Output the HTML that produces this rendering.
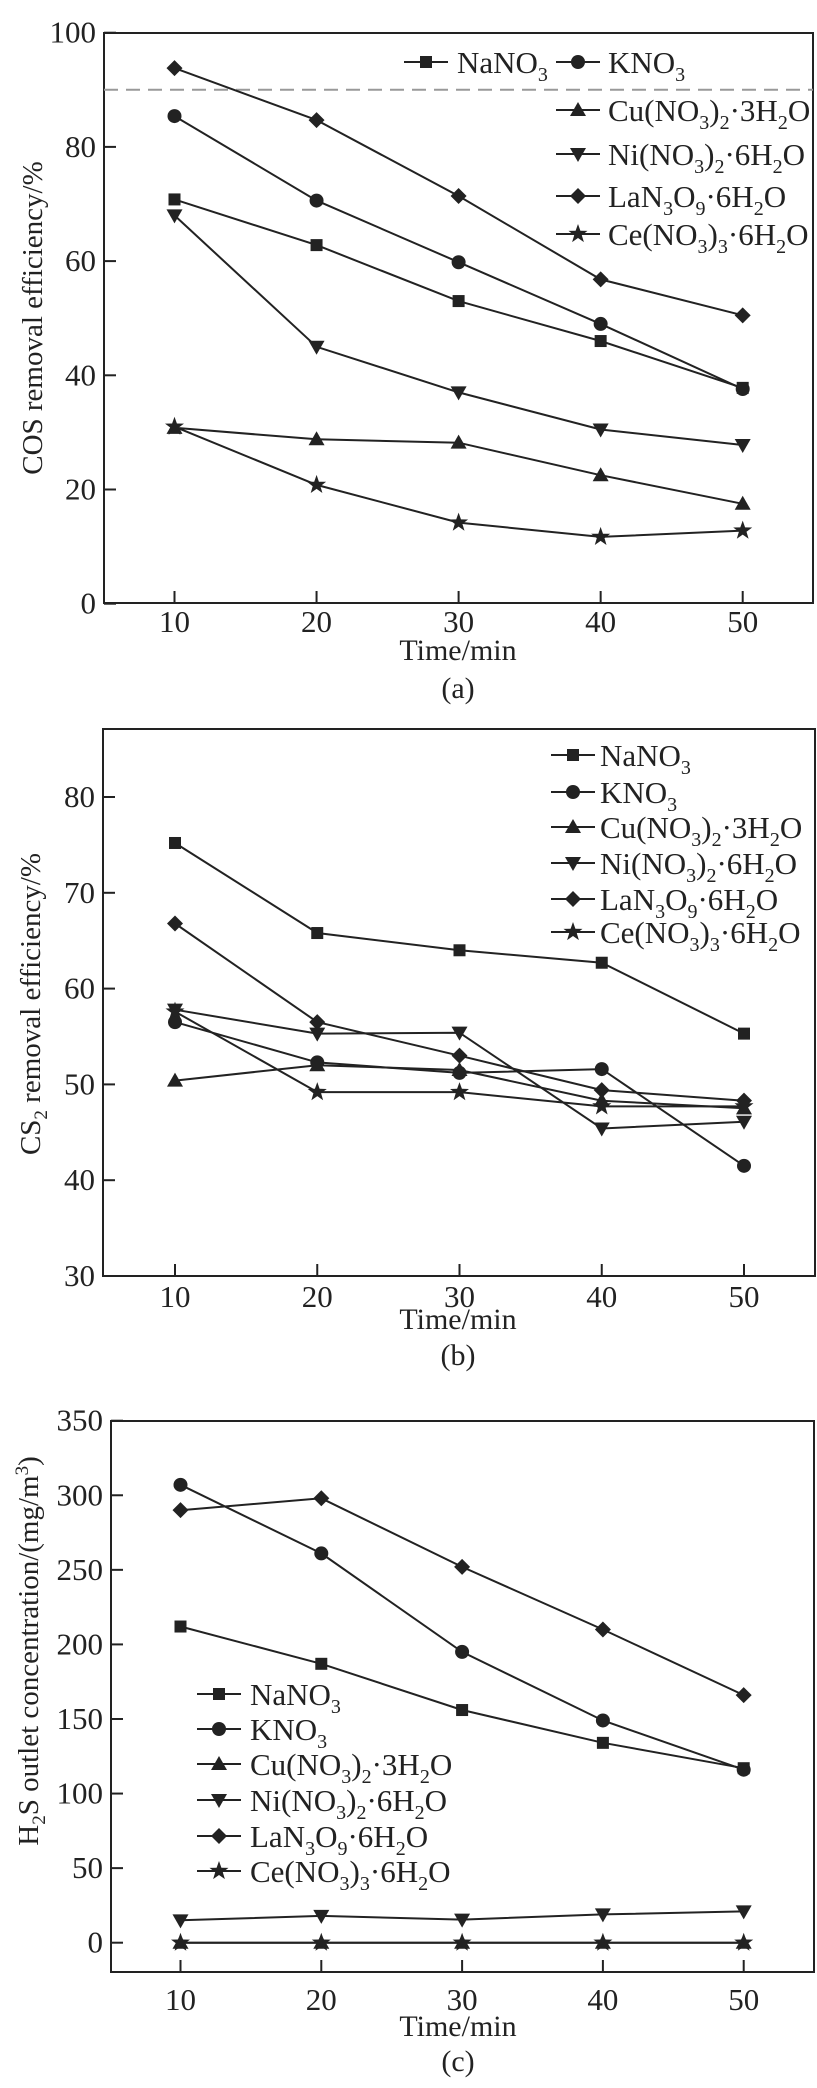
<!DOCTYPE html>
<html><head><meta charset="utf-8"><style>
body{margin:0;background:#fff}
svg{display:block;font-family:"Liberation Serif",serif;fill:#222}
</style></head><body>
<svg id="s" width="817" height="2088" viewBox="0 0 817 2088"></svg>
<script>
const times=[10,20,30,40,50];
const seriesNames=["NaNO3","KNO3","Cu","Ni","La","Ce"];
const markers=["square","circle","tri","itri","diamond","star"];
// (a) COS removal efficiency
const aNa=[70.8,62.8,53,46,37.8];
const aK=[85.4,70.6,59.8,49,37.6];
const aCu=[30.8,28.8,28.2,22.5,17.5];
const aNi=[68,45,37,30.5,27.8];
const aLa=[93.8,84.7,71.4,56.8,50.5];
const aCe=[31,20.8,14.2,11.7,12.8];
const aTicks=[0,20,40,60,80,100];
// (b) CS2 removal efficiency
const bNa=[75.2,65.8,64,62.7,55.3];
const bK=[56.5,52.3,51.2,51.6,41.5];
const bCu=[50.4,52,51.5,48.3,47.5];
const bNi=[57.8,55.3,55.4,45.4,46.1];
const bLa=[66.8,56.5,53,49.4,48.3];
const bCe=[57.6,49.2,49.2,47.7,47.7];
const bTicks=[30,40,50,60,70,80];
// (c) H2S outlet concentration
const cNa=[212,187,156,134,117];
const cK=[307,261,195,149,116];
const cCu=[0,0,0,0,0];
const cNi=[15,18,15.5,19,21];
const cLa=[290,298,252,210,166];
const cCe=[0,0,0,0,0];
const cTicks=[0,50,100,150,200,250,300,350];

const SB='<tspan dy="8" font-size="20">';
const legendLabels=[
 'NaNO'+SB+'3</tspan>',
 'KNO'+SB+'3</tspan>',
 'Cu(NO'+SB+'3</tspan><tspan dy="-8">)</tspan>'+SB+'2</tspan><tspan dy="-8">·3H</tspan>'+SB+'2</tspan><tspan dy="-8">O</tspan>',
 'Ni(NO'+SB+'3</tspan><tspan dy="-8">)</tspan>'+SB+'2</tspan><tspan dy="-8">·6H</tspan>'+SB+'2</tspan><tspan dy="-8">O</tspan>',
 'LaN'+SB+'3</tspan><tspan dy="-8">O</tspan>'+SB+'9</tspan><tspan dy="-8">·6H</tspan>'+SB+'2</tspan><tspan dy="-8">O</tspan>',
 'Ce(NO'+SB+'3</tspan><tspan dy="-8">)</tspan>'+SB+'3</tspan><tspan dy="-8">·6H</tspan>'+SB+'2</tspan><tspan dy="-8">O</tspan>'
];
const svg=document.getElementById('s');
const NS="http://www.w3.org/2000/svg";
function mk(tag,attrs,parent){const e=document.createElementNS(NS,tag);for(const k in attrs)e.setAttribute(k,attrs[k]);(parent||svg).appendChild(e);return e;}
function marker(type,x,y,g){
 let e;
 if(type==="square")e=mk('rect',{x:x-6,y:y-6,width:12,height:12,fill:'#222'},g);
 else if(type==="circle")e=mk('circle',{cx:x,cy:y,r:7,fill:'#222'},g);
 else if(type==="tri")e=mk('polygon',{points:`${x},${y-8} ${x+8},${y+6} ${x-8},${y+6}`,fill:'#222'},g);
 else if(type==="itri")e=mk('polygon',{points:`${x},${y+8} ${x+8},${y-6} ${x-8},${y-6}`,fill:'#222'},g);
 else if(type==="diamond")e=mk('polygon',{points:`${x},${y-8} ${x+8},${y} ${x},${y+8} ${x-8},${y}`,fill:'#222'},g);
 else{let p=[];for(let i=0;i<10;i++){const a=-Math.PI/2+i*Math.PI/5,rr=i%2?4:10;p.push((x+rr*Math.cos(a)).toFixed(1)+','+(y+rr*Math.sin(a)).toFixed(1));}e=mk('polygon',{points:p.join(' '),fill:'#222'},g);}
 
 
 return e;
}
function chart(cfg){
 const g=mk('g',{});
 
 
 const X=v=>cfg.x10+(v-10)*(cfg.x50-cfg.x10)/40;
 const Y=v=>cfg.yLo+(v-cfg.vLo)*(cfg.yHi-cfg.yLo)/(cfg.vHi-cfg.vLo);
 const box=mk('rect',{x:cfg.L,y:cfg.T,width:cfg.R-cfg.L,height:cfg.B-cfg.T,fill:'none',stroke:'#222','stroke-width':2},g);
 
 
 cfg.ticks.forEach(t=>{
  const y=Y(t);
  mk('line',{x1:cfg.L,x2:cfg.L+12,y1:y,y2:y,stroke:'#222','stroke-width':2},g);
  const tx=mk('text',{x:cfg.L-8,y:y+10,'text-anchor':'end','font-size':31},g);tx.textContent=t;
  
  
 });
 times.forEach(t=>{
  const x=X(t);
  mk('line',{x1:x,x2:x,y1:cfg.B,y2:cfg.B-12,stroke:'#222','stroke-width':2},g);
  const tx=mk('text',{x:x,y:cfg.B+cfg.xlOff,'text-anchor':'middle','font-size':31},g);tx.textContent=t;
  
  
 });
 if(cfg.dash!==undefined){const d=mk('line',{x1:cfg.L,x2:cfg.R,y1:Y(cfg.dash),y2:Y(cfg.dash),stroke:'#999','stroke-width':2,'stroke-dasharray':'14 8'},g);
  
  }
 cfg.series.forEach((s,i)=>{
  const pts=s.map((v,j)=>X(times[j]).toFixed(1)+','+Y(v).toFixed(1)).join(' ');
  const pl=mk('polyline',{points:pts,fill:'none',stroke:'#222','stroke-width':2},g);
  
  
  s.forEach((v,j)=>marker(markers[i],X(times[j]),Y(v),g));
 });
 const xt=mk('text',{x:cfg.xtX,y:cfg.xtY,'text-anchor':'middle','font-size':30},g);xt.textContent='Time/min';
 
 
 const cp=mk('text',{x:cfg.xtX,y:cfg.capY,'text-anchor':'middle','font-size':30},g);cp.textContent=cfg.cap;
 
 
 const yt=mk('text',{transform:`translate(${cfg.ytX},${cfg.ytY}) rotate(-90)`,'text-anchor':'middle','font-size':29},g);yt.innerHTML=cfg.yTitle;
 
 
 cfg.legend.forEach((p,i)=>{
  const lg=mk('g',{},g);
  
  
  mk('line',{x1:p[0],x2:p[0]+44,y1:p[2],y2:p[2],stroke:'#222','stroke-width':2},lg);
  marker(markers[i],p[0]+22,p[2],lg);
  const t=mk('text',{x:p[1],y:p[2]+11,'font-size':31},lg);t.innerHTML=legendLabels[i];
 });
}
chart({name:'chart-a-cos',L:104,R:813,T:33,B:603,x10:174.5,x50:742.7,yLo:603.7,yHi:32.7,vLo:0,vHi:100,ticks:aTicks,dash:90,xlOff:29,
 series:[aNa,aK,aCu,aNi,aLa,aCe],xtX:458,xtY:660,capY:698,cap:'(a)',ytX:42,ytY:318,
 yTitle:'COS removal efficiency/%',
 legend:[[404,457,62],[556,608,62],[556,608,110],[556,608,154],[556,608,196],[556,608,234]]});
chart({name:'chart-b-cs2',L:103,R:815,T:729,B:1276,x10:175,x50:744,yLo:1276,yHi:797,vLo:30,vHi:80,ticks:bTicks,xlOff:31,
 series:[bNa,bK,bCu,bNi,bLa,bCe],xtX:458,xtY:1329,capY:1365,cap:'(b)',ytX:40,ytY:1004,
 yTitle:'CS<tspan dy="7" font-size="19">2</tspan><tspan dy="-7"> removal efficiency/%</tspan>',
 legend:[[551,600,755],[551,600,792],[551,600,827],[551,600,863],[551,600,899],[551,600,932]]});
chart({name:'chart-c-h2s',L:111,R:814,T:1421,B:1972,x10:180.5,x50:743.7,yLo:1942.7,yHi:1420.7,vLo:0,vHi:350,ticks:cTicks,xlOff:38,
 series:[cNa,cK,cCu,cNi,cLa,cCe],xtX:458,xtY:2036,capY:2071,cap:'(c)',ytX:38,ytY:1651,
 yTitle:'H<tspan dy="7" font-size="19">2</tspan><tspan dy="-7">S outlet concentration/(mg/m</tspan><tspan dy="-10" font-size="19">3</tspan><tspan dy="10">)</tspan>',
 legend:[[197,250,1694],[197,250,1729],[197,250,1764],[197,250,1800],[197,250,1836],[197,250,1871]]});
</script>
</body></html>
